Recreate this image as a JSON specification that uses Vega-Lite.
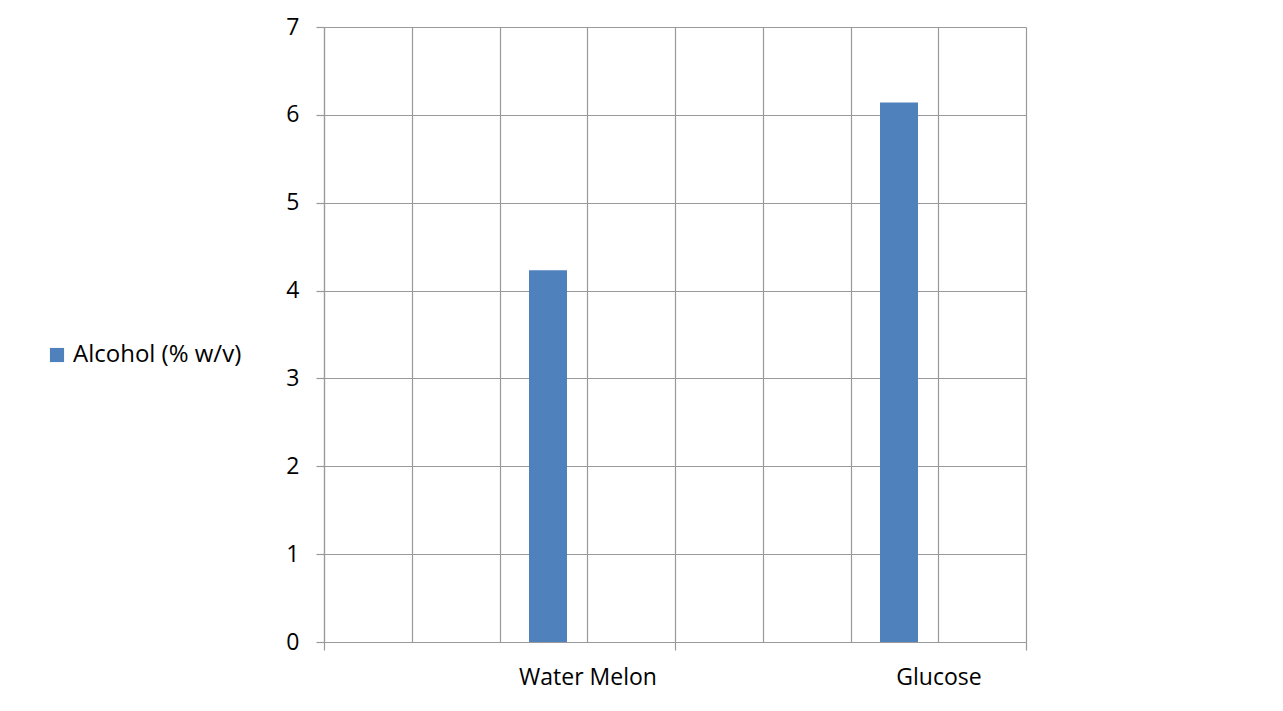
{
  "$schema": "https://vega.github.io/schema/vega-lite/v6.json",
  "autosize": "none",
  "padding": {"left": 324, "top": 27, "right": 257, "bottom": 69},
  "width": 702,
  "height": 615,
  "background": "white",
  "config": {
    "view": {"stroke": null},
    "font": "Open Sans",
    "axis": {"labelFont": "Open Sans", "labelFontSize": 23, "labelColor": "#000000", "gridColor": "#999999", "domainColor": "#999999", "tickColor": "#999999", "gridOpacity": 1, "gridWidth": 1.2, "domainWidth": 1.2, "tickWidth": 1.2}
  },
  "data": {"values": [
    {"Sample": "Water Melon", "Alcohol": 4.23, "Series": "Alcohol (% w/v)"},
    {"Sample": "Glucose", "Alcohol": 6.14, "Series": "Alcohol (% w/v)"}
  ]},
  "layer": [
    {
      "mark": {"type": "rule", "opacity": 0},
      "encoding": {
        "x": {"datum": 0, "type": "quantitative",
          "scale": {"domain": [0, 8], "nice": false, "zero": false},
          "axis": {"orient": "top", "values": [0,1,2,3,4,5,6,7,8], "grid": true, "labels": false, "ticks": false, "domain": false, "title": null}}
      }
    },
    {
      "mark": {"type": "bar", "width": 38, "xOffset": 48.5},
      "encoding": {
        "x": {"field": "Sample", "type": "nominal", "sort": null,
          "scale": {"domain": ["Water Melon", "Glucose"], "paddingInner": 0, "paddingOuter": 0},
          "axis": {"title": null, "labelAngle": 0, "labelOffset": 88, "tickBand": "extent", "grid": false, "ticks": true, "tickSize": 8, "labelPadding": 16, "domain": true}},
        "y": {"field": "Alcohol", "type": "quantitative",
          "scale": {"domain": [0, 7], "nice": false},
          "axis": {"title": null, "values": [0,1,2,3,4,5,6,7], "grid": true, "tickSize": 8, "labelPadding": 17, "domain": true}},
        "color": {"field": "Series", "type": "nominal",
          "scale": {"range": ["#4F81BD"]},
          "legend": {"title": null, "orient": "none", "legendX": -279, "legendY": 316, "padding": 0, "symbolType": "square", "symbolSize": 200, "symbolStrokeWidth": 0, "symbolOpacity": 1, "labelFont": "Open Sans", "labelFontSize": 24, "labelColor": "#000000", "labelOffset": 4, "labelLimit": 0}}
      }
    }
  ],
  "resolve": {"scale": {"x": "independent"}, "axis": {"x": "independent"}}
}
